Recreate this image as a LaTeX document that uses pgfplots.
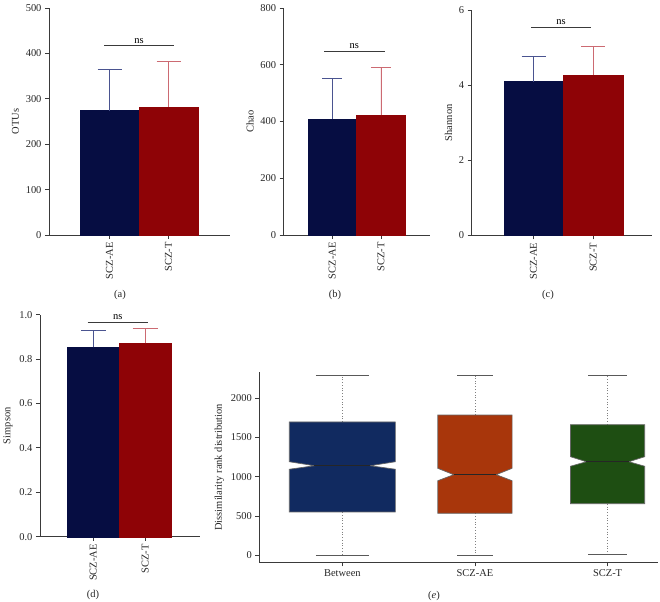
\documentclass[border=0pt]{standalone}
\usepackage{fontspec}
\setmainfont{Liberation Serif}
\usepackage{pgfplots}
\pgfplotsset{compat=1.18}
\definecolor{navy}{HTML}{060D42}
\definecolor{dred}{HTML}{8E0306}
\definecolor{navyerr}{HTML}{4A5490}
\definecolor{rederr}{HTML}{CC6A72}
\definecolor{axisgray}{HTML}{3A3A3A}
\definecolor{bBetween}{HTML}{112A60}
\definecolor{bAE}{HTML}{A8360B}
\definecolor{bT}{HTML}{1E4E12}
\pgfplotsset{
  base/.style={scale only axis, anchor=south west, clip=false,
    axis x line*=bottom, axis y line*=left,
    axis line style={axisgray, line width=0.8bp, -},
    tick style={axisgray, line width=0.8bp}, tick align=outside,
    major tick length=4bp, minor tick num=0,
    /pgf/number format/assume math mode=true,
    /pgf/number format/1000 sep={},
    ticklabel style={font=\fontsize{10.5}{12}\selectfont, text=black!85},
    label style={font=\fontsize{10.5}{12}\selectfont, text=black!85},
    scaled ticks=false},
  barax/.style={base, ymin=0, xtick={1,2}, xticklabels={SCZ-AE,SCZ-T},
    xticklabel style={rotate=90, anchor=east}},
  aebar/.style={ybar, bar width=1, bar shift=0pt, fill=navy, draw=navy,
    error bars/.cd, y dir=plus, y explicit,
    error bar style={navyerr, line width=0.8bp},
    error mark options={navyerr, rotate=90, mark size=#1, line width=0.8bp}},
  tbar/.style={ybar, bar width=1, bar shift=0pt, fill=dred, draw=dred,
    error bars/.cd, y dir=plus, y explicit,
    error bar style={rederr, line width=0.8bp},
    error mark options={rederr, rotate=90, mark size=#1, line width=0.8bp}},
  nsline/.style={axisgray, line width=0.8bp, no marks},
}
\begin{document}
\begin{tikzpicture}
\useasboundingbox (0,0) rectangle (660bp,602bp);
% (a)
\begin{axis}[barax, at={(49bp,367bp)}, width=181bp, height=227bp,
  xmin=-0.025, xmax=3.04, ymax=500, ytick={0,100,200,300,400,500}, ylabel={OTUs}]
\addplot[aebar=12bp] coordinates {(1,274) +- (0,91)};
\addplot[tbar=12bp] coordinates {(2,282) +- (0,100)};
\addplot[nsline] coordinates {(0.91,417) (2.09,417)};
\node[above, font=\fontsize{10.5}{12}\selectfont, inner sep=2bp] at (axis cs:1.5,417) {ns};
\end{axis}
% (b)
\begin{axis}[barax, at={(283.7bp,367bp)}, width=146.3bp, height=227bp,
  xmin=0, xmax=3.01, ymax=800, ytick={0,200,400,600,800}, ylabel={Chao}]
\addplot[aebar=10bp] coordinates {(1,408) +- (0,145)};
\addplot[tbar=10bp] coordinates {(2,422) +- (0,167)};
\addplot[nsline] coordinates {(0.83,648) (2.08,648)};
\node[above, font=\fontsize{10.5}{12}\selectfont, inner sep=2bp] at (axis cs:1.45,648) {ns};
\end{axis}
% (c)
\begin{axis}[barax, at={(471.7bp,366.7bp)}, width=180bp, height=225bp,
  xmin=-0.037, xmax=2.98, ymax=6, ytick={0,2,4,6}, ylabel={Shannon}]
\addplot[aebar=12bp] coordinates {(1,4.10) +- (0,0.66)};
\addplot[tbar=12bp] coordinates {(2,4.27) +- (0,0.77)};
\addplot[nsline] coordinates {(0.96,5.55) (1.96,5.55)};
\node[above, font=\fontsize{10.5}{12}\selectfont, inner sep=2bp] at (axis cs:1.46,5.55) {ns};
\end{axis}
% (d)
\begin{axis}[barax, at={(40bp,65.3bp)}, width=160bp, height=222bp,
  xmin=-0.03, xmax=3.06, ymax=1.0, ytick={0,0.2,0.4,0.6,0.8,1.0},
  yticklabel style={/pgf/number format/.cd, fixed, fixed zerofill, precision=1},
  ylabel={Simpson}]
\addplot[aebar=12.5bp] coordinates {(1,0.853) +- (0,0.078)};
\addplot[tbar=12.5bp] coordinates {(2,0.871) +- (0,0.066)};
\addplot[nsline] coordinates {(0.89,0.967) (2.05,0.967)};
\node[above, font=\fontsize{10.5}{12}\selectfont, inner sep=2bp] at (axis cs:1.47,0.967) {ns};
\end{axis}
% (e)
\begin{axis}[base, at={(259.3bp,39.7bp)}, width=398.7bp, height=190bp,
  xmin=0.374, xmax=3.38, ymin=-89, ymax=2331,
  xtick={1,2,3}, xticklabels={Between,SCZ-AE,SCZ-T},
  ytick={0,500,1000,1500,2000},
  ylabel={Dissimilarity rank distribution}]
% whiskers
\addplot[gray, dotted, line width=0.8bp, no marks] coordinates {(1,1698) (1,2288)};
\addplot[gray, dotted, line width=0.8bp, no marks] coordinates {(1,552) (1,0)};
\addplot[gray, dotted, line width=0.8bp, no marks] coordinates {(2,1787) (2,2288)};
\addplot[gray, dotted, line width=0.8bp, no marks] coordinates {(2,535) (2,0)};
\addplot[gray, dotted, line width=0.8bp, no marks] coordinates {(3,1664) (3,2288)};
\addplot[gray, dotted, line width=0.8bp, no marks] coordinates {(3,657) (3,13)};
% caps
\addplot[black!65, line width=0.9bp, no marks] coordinates {(0.80,2288) (1.20,2288)};
\addplot[black!65, line width=0.9bp, no marks] coordinates {(0.80,0) (1.20,0)};
\addplot[black!65, line width=0.9bp, no marks] coordinates {(1.865,2288) (2.135,2288)};
\addplot[black!65, line width=0.9bp, no marks] coordinates {(1.865,0) (2.135,0)};
\addplot[black!65, line width=0.9bp, no marks] coordinates {(2.855,2288) (3.145,2288)};
\addplot[black!65, line width=0.9bp, no marks] coordinates {(2.855,13) (3.145,13)};
% boxes
\addplot[fill=bBetween, draw=black!60, line width=0.7bp, no marks] coordinates {
 (0.60,552) (0.60,1096) (0.79,1141) (0.60,1192) (0.60,1698)
 (1.40,1698) (1.40,1192) (1.21,1141) (1.40,1096) (1.40,552) (0.60,552)} -- cycle;
\addplot[black!85, line width=1bp, no marks] coordinates {(0.79,1141) (1.21,1141)};
\addplot[fill=bAE, draw=black!60, line width=0.7bp, no marks] coordinates {
 (1.72,535) (1.72,950) (1.84,1027) (1.72,1108) (1.72,1787)
 (2.28,1787) (2.28,1108) (2.16,1027) (2.28,950) (2.28,535) (1.72,535)} -- cycle;
\addplot[black!85, line width=1bp, no marks] coordinates {(1.84,1027) (2.16,1027)};
\addplot[fill=bT, draw=black!60, line width=0.7bp, no marks] coordinates {
 (2.72,657) (2.72,1134) (2.84,1192) (2.72,1256) (2.72,1664)
 (3.28,1664) (3.28,1256) (3.16,1192) (3.28,1134) (3.28,657) (2.72,657)} -- cycle;
\addplot[black!85, line width=1bp, no marks] coordinates {(2.84,1192) (3.16,1192)};
\end{axis}
% captions
\node[font=\fontsize{10.5}{12}\selectfont, text=black!85] at (120bp,307bp) {(a)};
\node[font=\fontsize{10.5}{12}\selectfont, text=black!85] at (335bp,307bp) {(b)};
\node[font=\fontsize{10.5}{12}\selectfont, text=black!85] at (548bp,307bp) {(c)};
\node[font=\fontsize{10.5}{12}\selectfont, text=black!85] at (93bp,7bp) {(d)};
\node[font=\fontsize{10.5}{12}\selectfont, text=black!85] at (434bp,6bp) {(\textit{e})};
\end{tikzpicture}
\end{document}
